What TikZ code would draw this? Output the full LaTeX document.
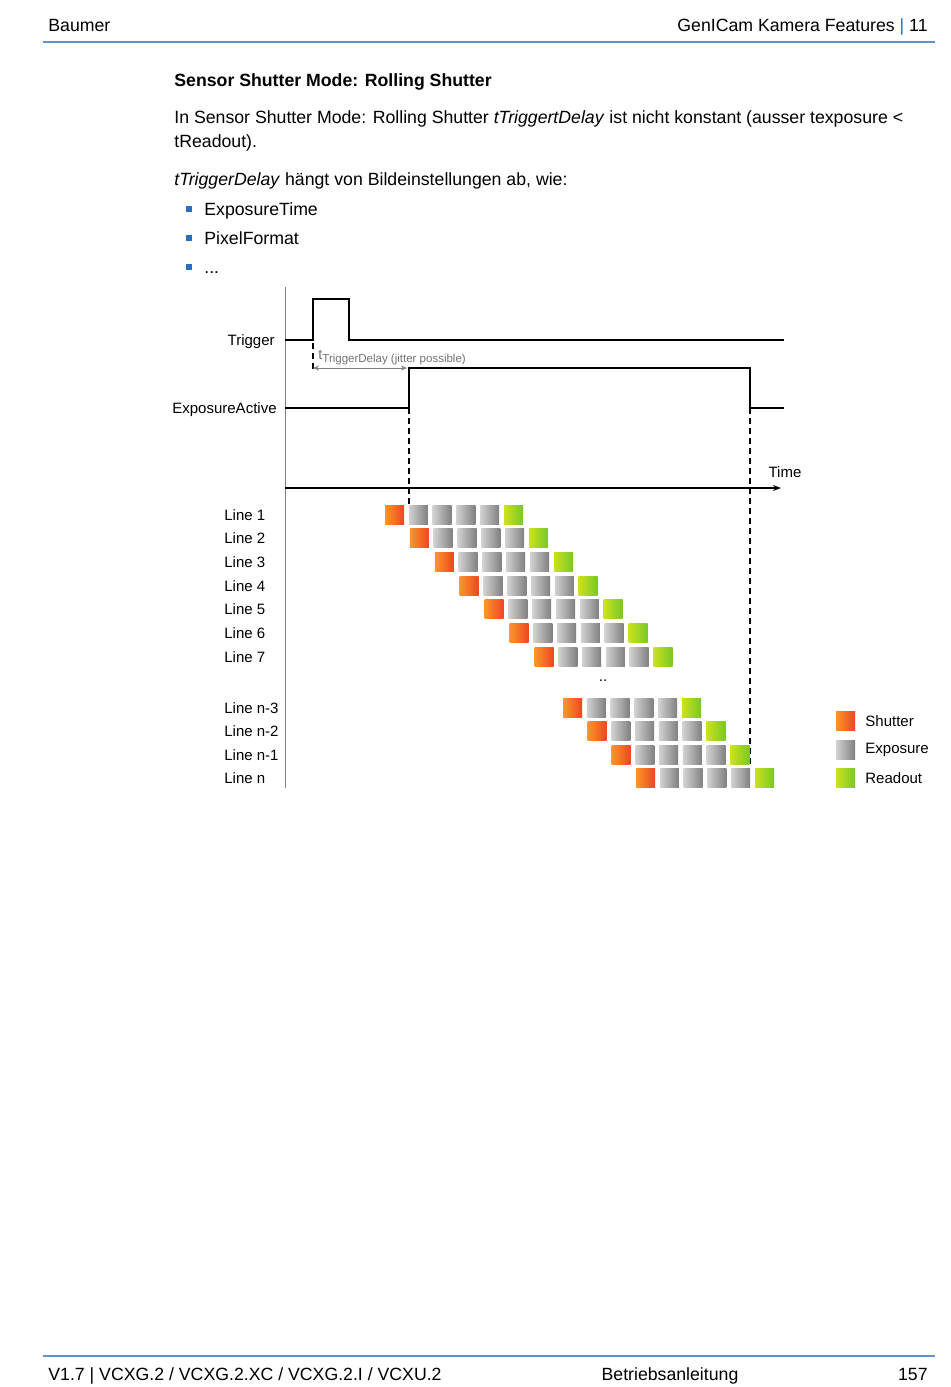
\documentclass[tikz,border=0pt]{standalone}
\usepackage{fontspec}
\setmainfont{Liberation Sans}
\usetikzlibrary{arrows.meta}
\definecolor{baublue}{RGB}{40,110,195}
\definecolor{rulebl}{RGB}{95,145,205}
\definecolor{shutA}{RGB}{250,150,40}
\definecolor{shutB}{RGB}{238,70,35}
\definecolor{expoA}{RGB}{210,210,210}
\definecolor{expoB}{RGB}{128,128,128}
\definecolor{readA}{RGB}{205,225,30}
\definecolor{readB}{RGB}{120,200,40}

\begin{document}
\begin{tikzpicture}[x=0.5pt,y=-0.5pt,
    txt/.style={inner sep=0pt,font=\fontsize{8.85}{10}\selectfont},
    lbl/.style={inner sep=0pt,font=\fontsize{7.5}{9}\selectfont},
    sig/.style={line width=1.25pt,black},
    sq/.style={minimum size=9.5pt,inner sep=0pt,outer sep=0pt},
    shut/.style={sq,left color=shutA,right color=shutB},
    expo/.style={sq,left color=expoA,right color=expoB},
    rdout/.style={sq,left color=readA,right color=readB}]
    \fill[white] (0,0) rectangle (950,1387);
    \useasboundingbox (0,0) rectangle (950,1387);
    % page head and foot
    \node[txt,anchor=base west] (brand) at (48,31) {Baumer};
    \node[txt,anchor=base east] (chap) at (928,31) {GenICam Kamera Features {\color{baublue}|} 11};
    \draw[rulebl,line width=0.8pt] (43,42) -- (935,42);
    \draw[rulebl,line width=0.6pt] (43,1356) -- (935,1356);
    \node[txt,anchor=base west] (ver) at (48,1380) {V1.7 | VCXG.2 / VCXG.2.XC / VCXG.2.I / VCXU.2};
    \node[txt,anchor=base] (manual) at (670,1380) {Betriebsanleitung};
    \node[txt,anchor=base east] (page) at (928,1380) {157};
    % text
    \node[txt,anchor=base west,font=\fontsize{8.85}{10}\selectfont\bfseries] (title) at (174,86) {Sensor Shutter Mode: Rolling Shutter};
    \node[txt,anchor=base west] (par1) at (174,123) {In Sensor Shutter Mode: Rolling Shutter \textit{tTriggertDelay} ist nicht konstant (ausser texposure <};
    \node[txt,anchor=base west] (par2) at (174,147) {tReadout).};
    \node[txt,anchor=base west] (par3) at (174,185) {\textit{tTriggerDelay} hängt von Bildeinstellungen ab, wie:};
    \foreach \y in {215,244,273}
        \fill[baublue] (186,\y-9) rectangle (192,\y-3);
    \node[txt,anchor=base west] (item1) at (204,215) {ExposureTime};
    \node[txt,anchor=base west] (item2) at (204,244) {PixelFormat};
    \node[txt,anchor=base west] (item3) at (204,273) {...};
    % signals
    \draw[gray,line width=0.5pt] (285,287) -- (285,788);
    \node[lbl,anchor=base east] (trig) at (275,345) {Trigger};
    \node[lbl,anchor=base east] (expact) at (277,413) {ExposureActive};
    \coordinate (trigup) at (313,340);
    \coordinate (eaup) at (409,408);
    \coordinate (eadown) at (750,408);
    \draw[sig] (285,340) -- (trigup) -- (313,299) -- (349,299) -- (349,340) -- (784,340);
    \draw[sig] (285,408) -- (eaup) -- (409,368) -- (750,368) -- (eadown) -- (784,408);
    \draw[densely dashed,line width=0.6pt] (313,343) -- (313,372);
    \draw[gray,line width=0.5pt,{Stealth[length=3pt,width=2.5pt]}-{Stealth[length=3pt,width=2.5pt]}] (313,368) -- (407,368);
    \node[inner sep=0pt,anchor=base west,text=gray!90!black] (delay) at (318,359)
        {{\fontsize{7.2}{8}\selectfont t}\raisebox{-1.5pt}{\fontsize{5.75}{6}\selectfont TriggerDelay (jitter possible)}};
    \draw[densely dashed,line width=0.6pt] (eaup) -- (409,506);
    \draw[densely dashed,line width=0.6pt] (eadown) -- (750,766);
    \draw[line width=0.6pt,-{Stealth[length=4pt,width=3pt]}] (285,488) -- (781,488);
    \node[lbl,anchor=base] (time) at (785,477) {Time};
    % sensor lines
    \foreach \i/\t/\y/\x in {1/1/515/394.5,2/2/538/419.4,3/3/562/444.3,4/4/586/469.2,5/5/609/494.1,6/6/633/519,7/7/657/544,
        8/n-3/708/572.5,9/n-2/731/597,10/n-1/755/621,11/n/778/645.5}{
        \node[lbl,anchor=west] (line\i) at (224,\y) {Line \t};
        \node[shut] (shut\i) at (\x,\y) {};
        \foreach \j in {1,2,3,4}
            \node[expo] at (\x+23.8*\j,\y) {};
        \node[rdout] (read\i) at (\x+119,\y) {};
    }
    \node[lbl] (dots) at (603,681) {..};
    % legend
    \node[shut] (keyshut) at (845.5,721) {};
    \node[expo] (keyexpo) at (845.5,749.5) {};
    \node[rdout] (keyread) at (845.5,778) {};
    \node[lbl,anchor=west] at (865,721) {Shutter};
    \node[lbl,anchor=west] at (865,749.5) {Exposure};
    \node[lbl,anchor=west] at (865,778) {Readout};
\end{tikzpicture}
\end{document}
